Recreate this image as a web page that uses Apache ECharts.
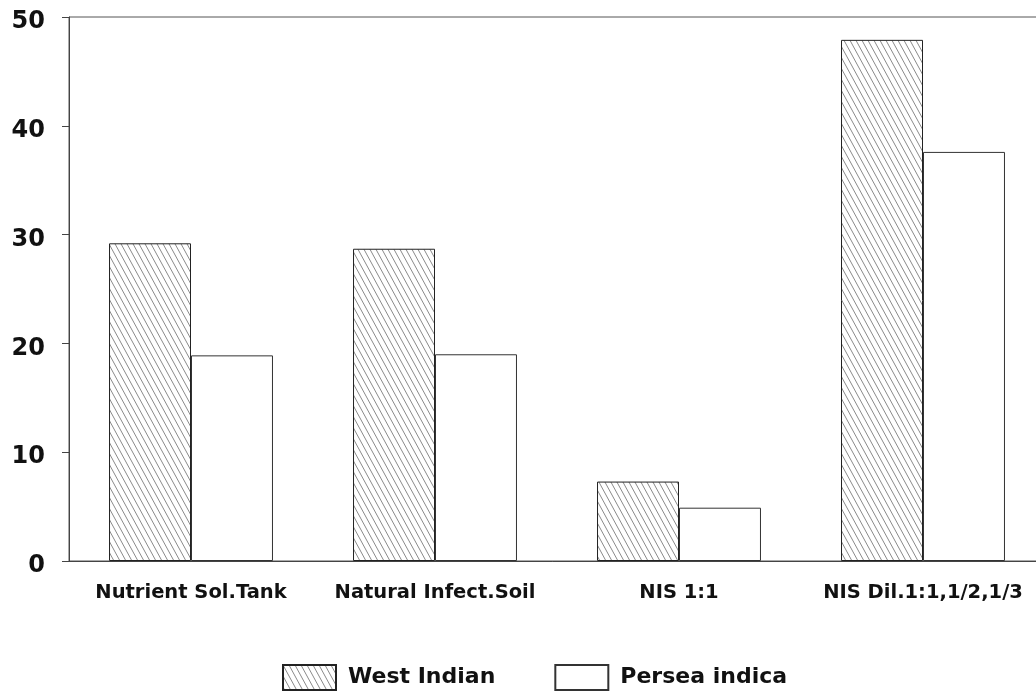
<!DOCTYPE html>
<html>
<head>
<meta charset="utf-8">
<script src="https://cdn.jsdelivr.net/npm/echarts@6/dist/echarts.min.js"></script>
<style>html,body{margin:0;padding:0;background:#fff;}#c{width:1036px;height:694px;}</style>
</head>
<body>
<div id="c"></div>
<script>
const categories = ['Nutrient Sol.Tank', 'Natural Infect.Soil', 'NIS 1:1', 'NIS Dil.1:1,1/2,1/3'];
const westIndian = [29.2, 28.7, 7.3, 47.9];
const perseaIndica = [18.9, 19.0, 4.9, 37.6];
const yTicks = [0, 10, 20, 30, 40, 50];

function hatch() {
  const w = 6, h = 11;
  const c = document.createElement('canvas');
  c.width = w; c.height = h;
  const g = c.getContext('2d');
  g.fillStyle = '#fff';
  g.fillRect(0, 0, w, h);
  g.strokeStyle = '#8a8a8a';
  g.lineWidth = 1;
  for (const dx of [-w, 0, w]) {
    g.beginPath();
    g.moveTo(dx, 0);
    g.lineTo(dx + w, h);
    g.stroke();
  }
  return c;
}
const pat = { image: hatch(), repeat: 'repeat' };

const chart = echarts.init(document.getElementById('c'));
const font = '"DejaVu Sans", sans-serif';
chart.setOption({
  animation: false,
  backgroundColor: '#fff',
  grid: { left: 69, top: 17, width: 976, bottom: 133, outerBoundsMode: 'none', containLabel: false,
          show: true, borderColor: '#555', borderWidth: 1, backgroundColor: 'transparent' },
  legend: {
    left: 282, top: 664, padding: 0,
    icon: 'rect',
    itemWidth: 53, itemHeight: 25, itemGap: 59,
    textStyle: { fontFamily: font, fontWeight: 'bold', fontSize: 22, color: '#111', padding: [0, 0, 0, 7] },
    data: ['West Indian', 'Persea indica']
  },
  xAxis: {
    type: 'category',
    data: categories,
    axisLine: { lineStyle: { color: '#444', width: 1 } },
    axisTick: { alignWithLabel: true, length: 12, lineStyle: { color: '#444' } },
    axisLabel: { interval: 0, hideOverlap: false, fontFamily: font, fontWeight: 'bold', fontSize: 19.5, color: '#111', margin: 22 },
    splitLine: { show: false }
  },
  yAxis: {
    type: 'value',
    min: yTicks[0], max: yTicks[yTicks.length - 1], interval: 10,
    axisLine: { show: true, lineStyle: { color: '#444', width: 1 } },
    axisTick: { show: true, length: 7, lineStyle: { color: '#444' } },
    axisLabel: { fontFamily: font, fontWeight: 'bold', fontSize: 24, color: '#111', margin: 24,
                 verticalAlign: 'top', lineHeight: 10 },
    splitLine: { show: false }
  },
  series: [
    {
      name: 'West Indian', type: 'bar', data: westIndian,
      barGap: '0%', barCategoryGap: '32.8%',
      itemStyle: { color: pat, borderColor: '#222', borderWidth: 1 }
    },
    {
      name: 'Persea indica', type: 'bar', data: perseaIndica,
      itemStyle: { color: '#fff', borderColor: '#333', borderWidth: 1 }
    }
  ]
});
</script>
</body>
</html>
